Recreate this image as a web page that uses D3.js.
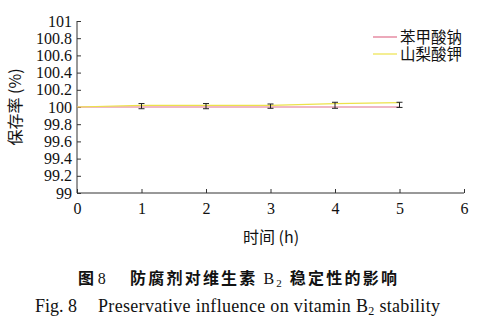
<!DOCTYPE html>
<html><head><meta charset="utf-8">
<script src="https://cdn.jsdelivr.net/npm/d3@7"></script>
<style>body{margin:0;background:#fff}svg{display:block}</style>
</head><body>
<svg id="c" width="490" height="327"></svg>
<script>
// Retention rate (%) of vitamin B2 over time with two preservatives
const hours = [0, 1, 2, 3, 4, 5];
const benzoate = [100, 100, 100, 100, 100, 100];                 // 苯甲酸钠
const sorbate  = [100, 100.02, 100.02, 100.02, 100.04, 100.05];  // 山梨酸钾
const errors   = [0, 0.03, 0.03, 0.025, 0.035, 0.03];
const yTicks = [99, 99.2, 99.4, 99.6, 99.8, 100, 100.2, 100.4, 100.6, 100.8, 101];
const xTicks = [0, 1, 2, 3, 4, 5, 6];
const seriesNames = ["苯甲酸钠", "山梨酸钾"];
const seriesColors = ["#e0708c", "#ece24a"];

const svg = d3.select("#c");
const serif = "'Liberation Serif','DejaVu Serif',serif";
const cjk = "'Noto Sans CJK SC',sans-serif";
const x = d3.scaleLinear().domain([0, 6]).range([77, 464]);
const y = d3.scaleLinear().domain([99, 101]).range([193, 21]);

// axes with inward ticks
const gx = svg.append("g").attr("transform", `translate(0,${y(99)})`)
  .call(d3.axisBottom(x).tickValues(xTicks).tickSize(-4).tickPadding(10).tickFormat(d3.format("d")));
const gy = svg.append("g").attr("transform", `translate(${x(0)},0)`)
  .call(d3.axisLeft(y).tickValues(yTicks).tickSize(-4).tickPadding(5).tickFormat(d => String(d)));
[gx, gy].forEach(g => {
  g.selectAll("path,line").attr("stroke", "#333").attr("stroke-width", 1);
  g.selectAll("text").attr("font-family", serif).attr("font-size", 16).attr("fill", "#111");
});
gx.select(".domain").attr("d", `M${x(0)},0H${x(6)}`);
gy.select(".domain").attr("d", `M0,${y(99)}V${y(101)}`);

// lines
const line = d3.line().x((d, i) => x(hours[i])).y(d => y(d));
[benzoate, sorbate].forEach((s, k) => {
  svg.append("path").datum(s).attr("d", line).attr("fill", "none")
    .attr("stroke", seriesColors[k]).attr("stroke-width", 1.2);
});

// error bars around the mean of both series
hours.forEach((h, i) => {
  if (!errors[i]) return;
  const cx = x(h), mid = (benzoate[i] + sorbate[i]) / 2;
  const y1 = y(mid - errors[i]), y2 = y(mid + errors[i]);
  const g = svg.append("g").attr("stroke", "#222").attr("stroke-width", 1);
  g.append("line").attr("x1", cx).attr("x2", cx).attr("y1", y1).attr("y2", y2);
  g.append("line").attr("x1", cx - 3).attr("x2", cx + 3).attr("y1", y1).attr("y2", y1);
  g.append("line").attr("x1", cx - 3).attr("x2", cx + 3).attr("y1", y2).attr("y2", y2);
});

// legend
seriesNames.forEach((n, k) => {
  const ly = 37 + k * 17;
  svg.append("line").attr("x1", 373).attr("x2", 397).attr("y1", ly).attr("y2", ly)
    .attr("stroke", seriesColors[k]).attr("stroke-width", 1.2);
  svg.append("text").attr("x", 400).attr("y", ly + 6).text(n)
    .attr("font-family", cjk).attr("font-size", 15.5).attr("fill", "#111");
});

// axis titles
svg.append("text").attr("transform", `translate(21,${y(100)}) rotate(-90)`)
  .attr("text-anchor", "middle").attr("font-size", 16).attr("fill", "#111")
  .attr("font-family", cjk).text("保存率 (%)");
svg.append("text").attr("x", 271).attr("y", 243).attr("text-anchor", "middle")
  .attr("font-size", 16).attr("fill", "#111").attr("font-family", cjk)
  .text("时间 (h)");

// captions
const fig1 = svg.append("text").attr("x", 78).attr("y", 284).attr("fill", "#111")
  .attr("font-size", 16).attr("font-weight", "bold").attr("font-family", cjk);
fig1.append("tspan").text("图 ");
fig1.append("tspan").attr("font-family", serif).attr("font-weight", "normal").text("8");

const cap1 = svg.append("text").attr("x", 130).attr("y", 284).attr("fill", "#111")
  .attr("font-size", 16).attr("font-weight", "bold").attr("font-family", cjk)
  .attr("textLength", 267).attr("lengthAdjust", "spacing");
cap1.append("tspan").text("防腐剂对维生素 ");
cap1.append("tspan").attr("font-family", serif).attr("font-weight", "normal").text("B");
cap1.append("tspan").attr("font-family", serif).attr("font-weight", "normal").attr("font-size", 11).attr("dy", 3).text("2");
cap1.append("tspan").attr("dy", -3).text(" 稳定性的影响");

svg.append("text").attr("x", 35).attr("y", 312).attr("fill", "#111")
  .attr("font-size", 18).attr("font-family", serif).text("Fig. 8");
const cap2 = svg.append("text").attr("x", 98).attr("y", 312).attr("fill", "#111")
  .attr("font-size", 18).attr("font-family", serif)
  .attr("textLength", 342).attr("lengthAdjust", "spacing");
cap2.append("tspan").text("Preservative influence on vitamin B");
cap2.append("tspan").attr("font-size", 12).attr("dy", 3).text("2");
cap2.append("tspan").attr("dy", -3).text(" stability");
</script>
</body></html>
